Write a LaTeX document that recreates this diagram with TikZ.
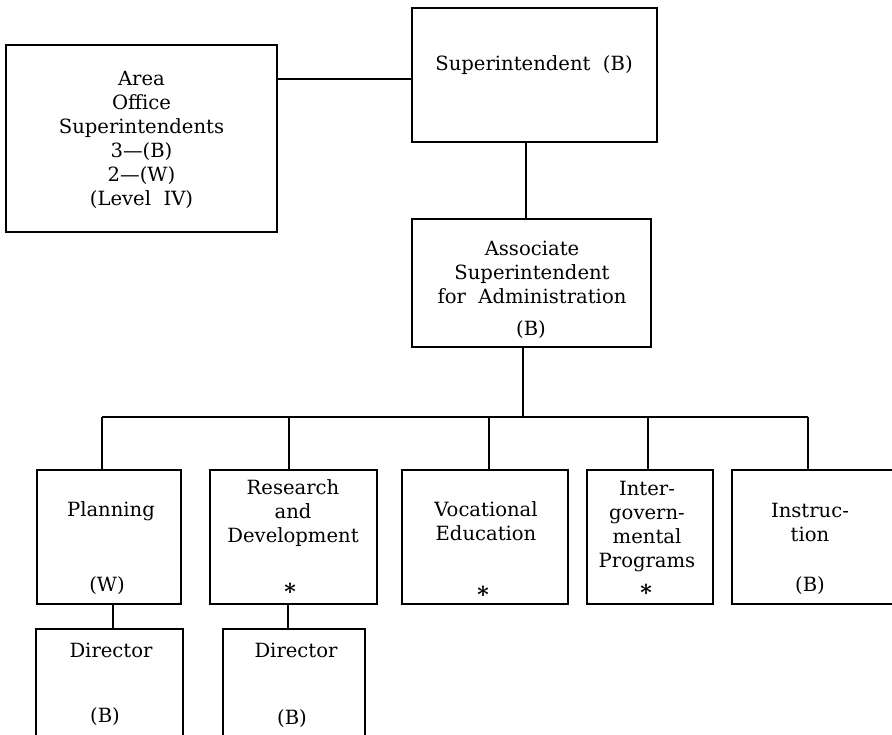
\documentclass[tikz,border=0pt]{standalone}
\usepackage{fontspec}
\setmainfont{DejaVu Serif}
\tikzset{
  box/.style={draw, line width=1pt, inner sep=0pt},
  txt/.style={align=center, inner sep=0pt, font=\fontsize{9.8}{12}\selectfont},
  star/.style={inner sep=0pt, font=\fontsize{11}{11}\bfseries}
}
\begin{document}
\begin{tikzpicture}[x=0.5pt, y=-0.5pt, line width=1pt]
  \useasboundingbox (0,0) rectangle (892,734);
  \node[box, minimum width=135.5pt, minimum height=93.5pt] (area) at (141.5,138.5) {};
  \node[box, minimum width=122.5pt, minimum height=67pt] (super) at (534.5,75) {};
  \node[box, minimum width=119.5pt, minimum height=64pt] (assoc) at (531.5,283) {};
  \node[box, minimum width=72pt, minimum height=67pt] (plan) at (109,537) {};
  \node[box, minimum width=83.5pt, minimum height=67pt] (rd) at (293.5,537) {};
  \node[box, minimum width=83pt, minimum height=67pt] (voc) at (485,537) {};
  \node[box, minimum width=63pt, minimum height=67pt] (gov) at (650,537) {};
  \node[box, minimum width=84pt, minimum height=67pt] (instr) at (816,537) {};
  \node[box, minimum width=73.5pt, minimum height=65.5pt] (dirA) at (109.5,694.5) {};
  \node[box, minimum width=71pt, minimum height=65.5pt] (dirB) at (294,694.5) {};

  \node[txt] (areaT) at (141.5,140) {Area\\Office\\Superintendents\\3---(B)\\2---(W)\\(Level\ \ IV)};
  \node[txt] (superT) at (534,65) {Superintendent\ \ (B)};
  \node[txt] (assocT) at (532,272) {Associate\\Superintendent\\for\ \ Administration};
  \node[txt] (assocB) at (531,330) {(B)};
  \node[txt] (planT) at (111,511) {Planning};
  \node[txt] (planW) at (107,586) {(W)};
  \node[txt] (rdT) at (293,513) {Research\\and\\Development};
  \node[star] (rdS) at (290,591) {*};
  \node[txt] (vocT) at (486,521) {Vocational\\Education};
  \node[star] (vocS) at (483,594) {*};
  \node[txt] (govT) at (647,527) {Inter-\\govern-\\mental\\Programs};
  \node[star] (govS) at (646,592) {*};
  \node[txt] (instrT) at (810,522) {Instruc-\\tion};
  \node[txt] (instrB) at (810,586) {(B)};
  \node[txt] (dirAT) at (111,650) {Director};
  \node[txt] (dirAB) at (105,717) {(B)};
  \node[txt] (dirBT) at (296,650) {Director};
  \node[txt] (dirBB) at (292,719) {(B)};

  \draw (area.north east) ++(0,35) coordinate (a1) -- (a1 -| super.west);
  \draw (super.south -| 526,0) -- (assoc.north -| 526,0);
  \draw (assoc.south -| 523,0) -- (523,417);
  \draw (102,417) -- (808,417);
  \foreach \n/\x in {plan/102, rd/289, voc/489, gov/648, instr/808}
    \draw (\x,417) -- (\n.north -| \x,0);
  \draw (plan.south -| 113,0) -- (dirA.north -| 113,0);
  \draw (rd.south -| 288,0) -- (dirB.north -| 288,0);
\end{tikzpicture}
\end{document}
